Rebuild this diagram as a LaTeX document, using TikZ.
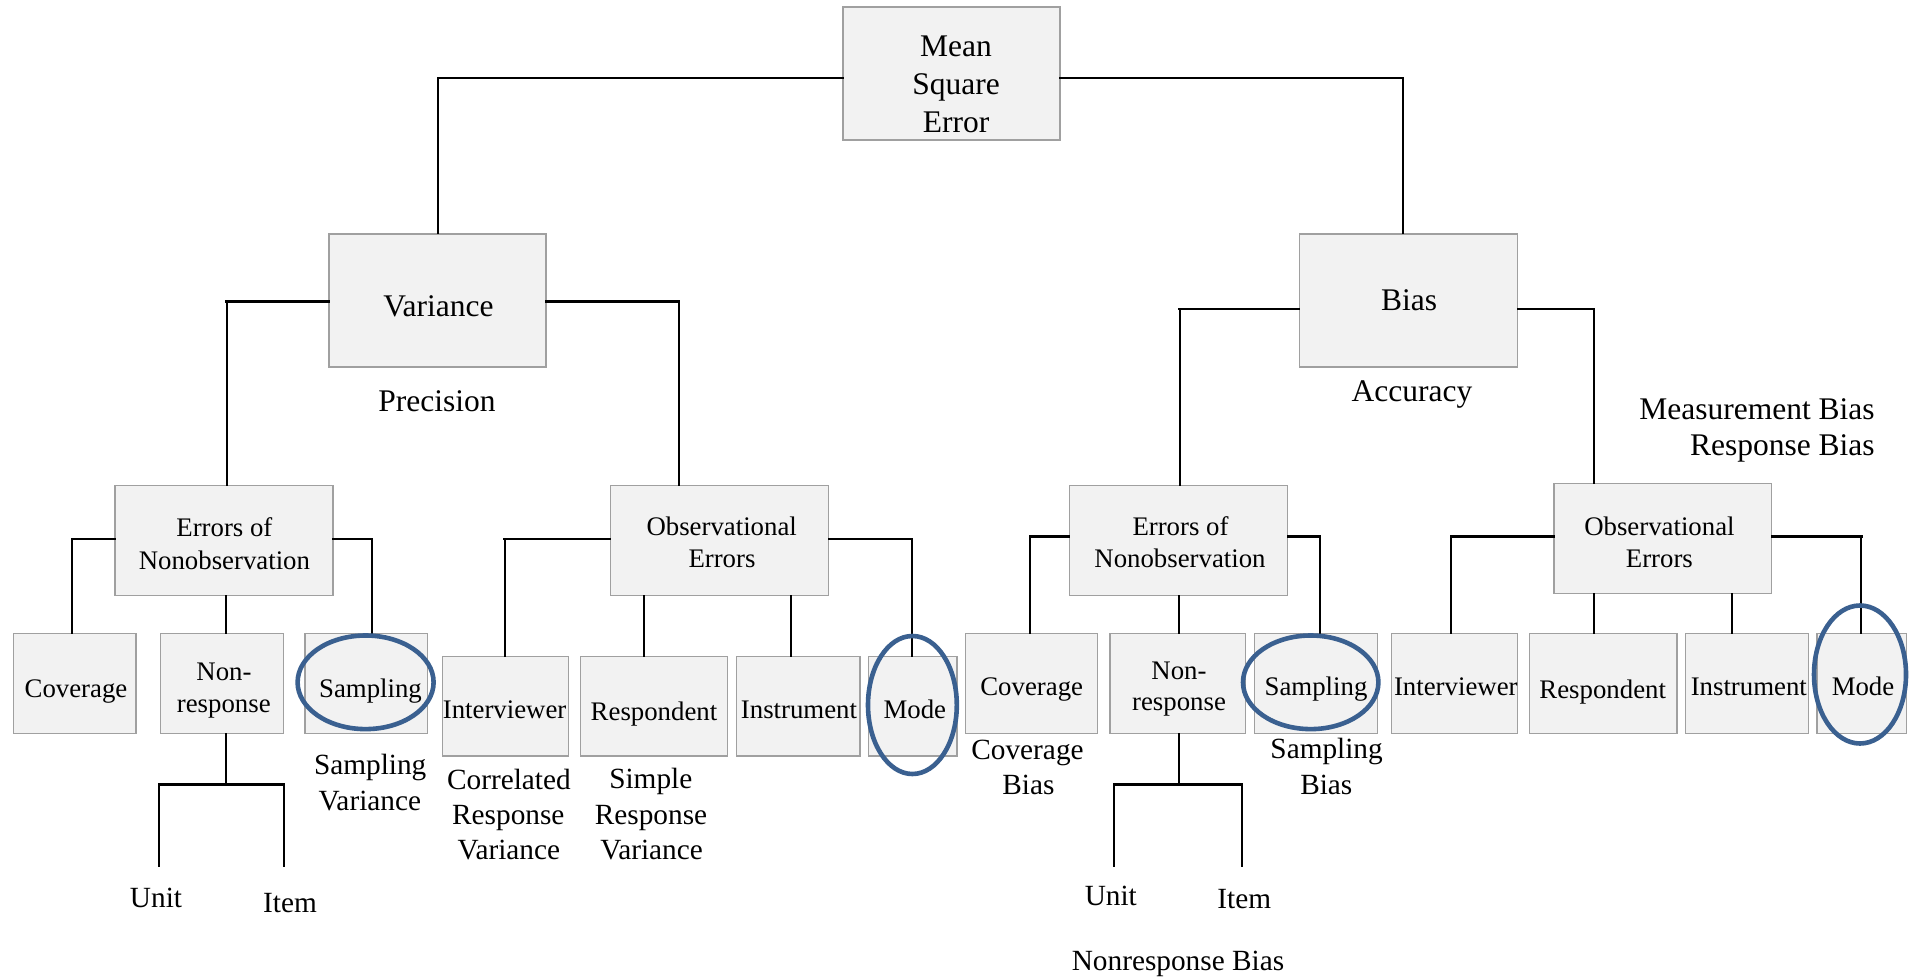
\documentclass[tikz,border=0pt]{standalone}
\usepackage{fontspec}
\setmainfont{Liberation Serif}
\definecolor{boxfill}{HTML}{F2F2F2}
\definecolor{boxline}{HTML}{A0A0A0}
\definecolor{ringblue}{HTML}{3A6090}
\begin{document}
\begin{tikzpicture}[x=0.5pt,y=-0.5pt,
  box/.style={draw=boxline, fill=boxfill, line width=0.7pt, inner sep=0pt},
  sz/.style 2 args={minimum width=#1*0.5pt, minimum height=#2*0.5pt},
  big/.style={font=\fontsize{15.75pt}{19pt}\selectfont, inner sep=0pt, anchor=base},
  mid/.style={font=\fontsize{14.65pt}{17.5pt}\selectfont, inner sep=0pt, anchor=base},
  small/.style={font=\fontsize{13.4pt}{16pt}\selectfont, inner sep=0pt, anchor=base},
  hl/.style={line width=1.4pt, line cap=rect},
  vl/.style={line width=1pt, line cap=rect},
  ring/.style={draw=ringblue, line width=2.3pt}]
\fill[white] (0,0) rectangle (1910,978);
\path[use as bounding box] (0,0) rectangle (1910,978);

% ---- boxes ----
\node[box, sz={217}{133}] (mse) at (951.5,73.5) {};
\node[box, sz={217}{133}] (var) at (437.5,300.5) {};
\node[box, sz={218}{133}] (bias) at (1408.7,300.5) {};
\node[box, sz={218}{110}] (enoL) at (224,540.5) {};
\node[box, sz={218}{110}] (obsL) at (719.5,540.3) {};
\node[box, sz={218}{110}] (enoR) at (1178.4,540.3) {};
\node[box, sz={217.4}{110}] (obsR) at (1662.5,538.3) {};
% leaves row A
\node[box, sz={122.5}{100}] (covL) at (74.75,683.3) {};
\node[box, sz={123}{100}] (nrL) at (222,683.3) {};
\node[box, sz={122.4}{100}] (sampL) at (366.2,683.3) {};
\node[box, sz={132.3}{100}] (covR) at (1031.5,683.3) {};
\node[box, sz={135.4}{100}] (nrR) at (1177.5,683.3) {};
\node[box, sz={123}{100}] (sampR) at (1315.9,683.3) {};
\node[box, sz={126.2}{100}] (intR) at (1454.6,683.3) {};
\node[box, sz={147.6}{100}] (resR) at (1603.1,683.3) {};
\node[box, sz={123}{100}] (insR) at (1747,683.3) {};
\node[box, sz={89.4}{100}] (modeR) at (1861.8,683.3) {};
% leaves row B
\node[box, sz={125.6}{99.3}] (intL) at (505.5,706.35) {};
\node[box, sz={147}{99.3}] (resL) at (654,706.35) {};
\node[box, sz={123.1}{99.3}] (insL) at (798.25,706.35) {};
\node[box, sz={88.8}{99.3}] (modeL) at (912.7,706.35) {};

% ---- connectors ----
\coordinate (j1) at (438,78);
\coordinate (j2) at (1403,78);
\coordinate (j3) at (226.6,301.7);
\coordinate (j4) at (678.5,301.7);
\coordinate (j5) at (1179.6,309);
\coordinate (j6) at (1593.6,309);
\coordinate (j7) at (72.3,539);
\coordinate (j8) at (371.7,539);
\coordinate (j9) at (504.6,539);
\coordinate (j10) at (911.8,539);
\coordinate (j11) at (1030.2,536.7);
\coordinate (j12) at (1319.9,536.7);
\coordinate (j13) at (1450.9,536.7);
\coordinate (j14) at (1861.2,536.7);
\coordinate (k1) at (643.6,620);
\coordinate (k2) at (791.2,620);
\coordinate (k3) at (1593.6,610);
\coordinate (k4) at (1732,610);
\coordinate (j15) at (226,784.3);
\coordinate (j16) at (1179,784.3);
\coordinate (uL) at (159,865.7);
\coordinate (iL) at (283.5,865.7);
\coordinate (uR) at (1114,865.7);
\coordinate (iR) at (1241.5,865.7);

\draw[hl] (mse.west |- j1) -- (j1);  \draw[vl] (j1) -- (j1 |- var.north);
\draw[hl] (mse.east |- j2) -- (j2);  \draw[vl] (j2) -- (j2 |- bias.north);
\draw[hl] (var.west |- j3) -- (j3);  \draw[vl] (j3) -- (j3 |- enoL.north);
\draw[hl] (var.east |- j4) -- (j4);  \draw[vl] (j4) -- (j4 |- obsL.north);
\draw[hl] (bias.west |- j5) -- (j5); \draw[vl] (j5) -- (j5 |- enoR.north);
\draw[hl] (bias.east |- j6) -- (j6); \draw[vl] (j6) -- (j6 |- obsR.north);
\draw[hl] (enoL.west |- j7) -- (j7); \draw[vl] (j7) -- (j7 |- covL.north);
\draw[hl] (enoL.east |- j8) -- (j8); \draw[vl] (j8) -- (j8 |- sampL.north);
\draw[vl] (enoL.south -| j15) -- (j15 |- nrL.north);
\draw[hl] (obsL.west |- j9) -- (j9); \draw[vl] (j9) -- (j9 |- intL.north);
\draw[hl] (obsL.east |- j10) -- (j10); \draw[vl] (j10) -- (j10 |- modeL.north);
\draw[vl] (obsL.south -| k1) -- (k1 |- resL.north);
\draw[vl] (obsL.south -| k2) -- (k2 |- insL.north);
\draw[hl] (enoR.west |- j11) -- (j11); \draw[vl] (j11) -- (j11 |- covR.north);
\draw[hl] (enoR.east |- j12) -- (j12); \draw[vl] (j12) -- (j12 |- sampR.north);
\draw[vl] (enoR.south -| j16) -- (j16 |- nrR.north);
\draw[hl] (obsR.west |- j13) -- (j13); \draw[vl] (j13) -- (j13 |- intR.north);
\draw[hl] (obsR.east |- j14) -- (j14); \draw[vl] (j14) -- (j14 |- modeR.north);
\draw[vl] (obsR.south -| k3) -- (k3 |- resR.north);
\draw[vl] (obsR.south -| k4) -- (k4 |- insR.north);
% nonresponse splits
\draw[vl] (nrL.south -| j15) -- (j15);
\draw[hl] (uL |- j15) -- (iL |- j15);
\draw[vl] (uL |- j15) -- (uL);
\draw[vl] (iL |- j15) -- (iL);
\draw[vl] (nrR.south -| j16) -- (j16);
\draw[hl] (uR |- j16) -- (iR |- j16);
\draw[vl] (uR |- j16) -- (uR);
\draw[vl] (iR |- j16) -- (iR);

% ---- texts ----
\node[big] (mse1) at (956,56.7) {Mean};
\node[big] (mse2) at (956,95) {Square};
\node[big] (mse3) at (956,132.7) {Error};
\node[big] (varT) at (438.5,316.7) {Variance};
\node[big] (biasT) at (1409,311) {Bias};
\node[big] (prec) at (437,411.7) {Precision};
\node[big] (acc) at (1412,401.7) {Accuracy};
\node[big, anchor=base east] (meas) at (1875,419.3) {Measurement Bias};
\node[big, anchor=base east] (resp) at (1875,455) {Response Bias};

\node[small] (enoL1) at (224.4,536.7) {Errors of};
\node[small] (enoL2) at (224.4,569.3) {Nonobservation};
\node[small] (obsL1) at (721.7,535.7) {Observational};
\node[small] (obsL2) at (722,567.3) {Errors};
\node[small] (enoR1) at (1180.5,535) {Errors of};
\node[small] (enoR2) at (1180,567.3) {Nonobservation};
\node[small] (obsR1) at (1659.4,535) {Observational};
\node[small] (obsR2) at (1659.4,567.3) {Errors};

\node[small] (covLt) at (76,697.3) {Coverage};
\node[small] (nrL1) at (224,680.7) {Non-};
\node[small] (nrL2) at (223.8,712.7) {response};
\node[small] (sampLt) at (370.5,697.3) {Sampling};
\node[small] (intLt) at (504.6,718.3) {Interviewer};
\node[small] (resLt) at (654,720.7) {Respondent};
\node[small] (insLt) at (799,718.3) {Instrument};
\node[small] (modeLt) at (914.8,718.3) {Mode};
\node[small] (covRt) at (1031.7,695) {Coverage};
\node[small] (nrR1) at (1179,679.3) {Non-};
\node[small] (nrR2) at (1179,710) {response};
\node[small] (sampRt) at (1316,695) {Sampling};
\node[small] (intRt) at (1455.8,695) {Interviewer};
\node[small] (resRt) at (1602.7,698.3) {Respondent};
\node[small] (insRt) at (1748.8,695) {Instrument};
\node[small] (modeRt) at (1863,695) {Mode};

\node[mid] (sv1) at (370.2,774) {Sampling};
\node[mid] (sv2) at (369.8,810.7) {Variance};
\node[mid] (crv1) at (508.9,789.3) {Correlated};
\node[mid] (crv2) at (508.3,824.3) {Response};
\node[mid] (crv3) at (508.8,859.3) {Variance};
\node[mid] (srv1) at (650.8,788.3) {Simple};
\node[mid] (srv2) at (651,824.3) {Response};
\node[mid] (srv3) at (651.6,859.3) {Variance};
\node[mid] (unitL) at (156,907.7) {Unit};
\node[mid] (itemL) at (290,912.7) {Item};
\node[mid] (cb1) at (1027.5,759.3) {Coverage};
\node[mid] (cb2) at (1028.4,794) {Bias};
\node[mid] (sb1) at (1326.6,758.7) {Sampling};
\node[mid] (sb2) at (1326.3,794) {Bias};
\node[mid] (unitR) at (1110.8,905) {Unit};
\node[mid] (itemR) at (1244.3,908.3) {Item};
\node[mid] (nrb) at (1178,970) {Nonresponse Bias};

% ---- highlight rings ----
\draw[ring] (365.6,682.3) ellipse [x radius=34pt, y radius=23.4pt];
\draw[ring] (912.4,705) ellipse [x radius=22.2pt, y radius=34.5pt];
\draw[ring] (1310.7,682.3) ellipse [x radius=33.85pt, y radius=23.4pt];
\draw[ring] (1860,674.5) ellipse [x radius=23pt, y radius=34.5pt];
\end{tikzpicture}
\end{document}
